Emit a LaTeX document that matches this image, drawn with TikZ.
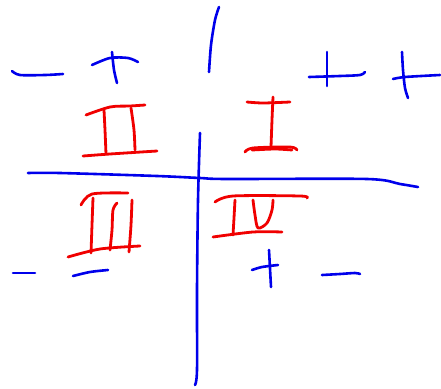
\documentclass[tikz,border=0pt]{standalone}
\definecolor{penblue}{RGB}{0,0,235}
\definecolor{penred}{RGB}{240,0,0}
\begin{document}
\begin{tikzpicture}[x=1pt,y=-1pt,
    bluepen/.style={penblue, line width=2.6pt, line cap=round, line join=round},
    redpen/.style={penred, line width=2.8pt, line cap=round, line join=round}]
    \useasboundingbox (0,0) rectangle (441,388);

    % Axes
    \draw[bluepen] plot[smooth] coordinates {(28,173) (60,173) (157,176) (200,178) (227,179) (367,179) (400,184) (418,187)};
    \draw[bluepen] plot[smooth] coordinates {(200,133) (198,200) (197,290) (197,370) (195,385)};

    % Stroke above the axis
    \draw[bluepen] plot[smooth] coordinates {(219,7) (215,20) (211,45) (209,72)};

    % Signs, top row
    \draw[bluepen] plot[smooth] coordinates {(12,71) (20,75) (45,75) (63,74)};
    \draw[bluepen] plot[smooth] coordinates {(92,65) (110,58) (128,58) (138,62)};
    \draw[bluepen] plot[smooth] coordinates {(112,52) (114,70) (117,83)};
    \draw[bluepen] plot[smooth] coordinates {(309,77) (340,76) (360,75) (365,72)};
    \draw[bluepen] (327,52) -- (327,86);
    \draw[bluepen] plot[smooth] coordinates {(402,52) (403,70) (405,88) (408,98)};
    \draw[bluepen] plot[smooth] coordinates {(393,79) (405,77) (440,75)};

    % Signs, bottom row
    \draw[bluepen] (13,273) -- (35,273);
    \draw[bluepen] plot[smooth] coordinates {(73,276) (90,272) (108,270)};
    \draw[bluepen] plot[smooth] coordinates {(252,270) (262,267) (278,265)};
    \draw[bluepen] (269,250) -- (271,287);
    \draw[bluepen] plot[smooth] coordinates {(322,275) (340,274) (355,273) (360,274)};

    % Quadrant I
    \draw[redpen] plot[smooth] coordinates {(247,102) (263,103) (290,102)};
    \draw[redpen] plot[smooth] coordinates {(273,97) (272,120) (271,147)};
    \draw[redpen] plot[smooth] coordinates {(245,152) (253,148) (290,147) (297,150)};
    \draw[redpen] plot[smooth] coordinates {(252,150) (275,149) (292,150)};

    % Quadrant II
    \draw[redpen] plot[smooth] coordinates {(86,115) (110,107) (130,106) (145,105)};
    \draw[redpen] plot[smooth] coordinates {(104,110) (105,130) (106,154)};
    \draw[redpen] plot[smooth] coordinates {(131,108) (134,130) (135,150)};
    \draw[redpen] plot[smooth] coordinates {(83,156) (110,154) (157,151)};

    % Quadrant III
    \draw[redpen] plot[smooth] coordinates {(81,205) (92,194) (128,193)};
    \draw[redpen] plot[smooth] coordinates {(93,198) (92,225) (91,253)};
    \draw[redpen] plot[smooth] coordinates {(117,203) (113,210) (112,230) (110,250)};
    \draw[redpen] plot[smooth] coordinates {(132,200) (131,225) (129,252)};
    \draw[redpen] plot[smooth] coordinates {(68,257) (100,249) (140,246)};

    % Quadrant IV
    \draw[redpen] plot[smooth] coordinates {(215,202) (233,196) (300,196) (307,198)};
    \draw[redpen] plot[smooth] coordinates {(235,200) (234,218) (233,235)};
    \draw[redpen] plot[smooth] coordinates {(253,200) (255,215) (258,228) (267,223) (272,210) (273,200)};
    \draw[redpen] plot[smooth] coordinates {(213,237) (253,232) (282,232)};
\end{tikzpicture}
\end{document}
